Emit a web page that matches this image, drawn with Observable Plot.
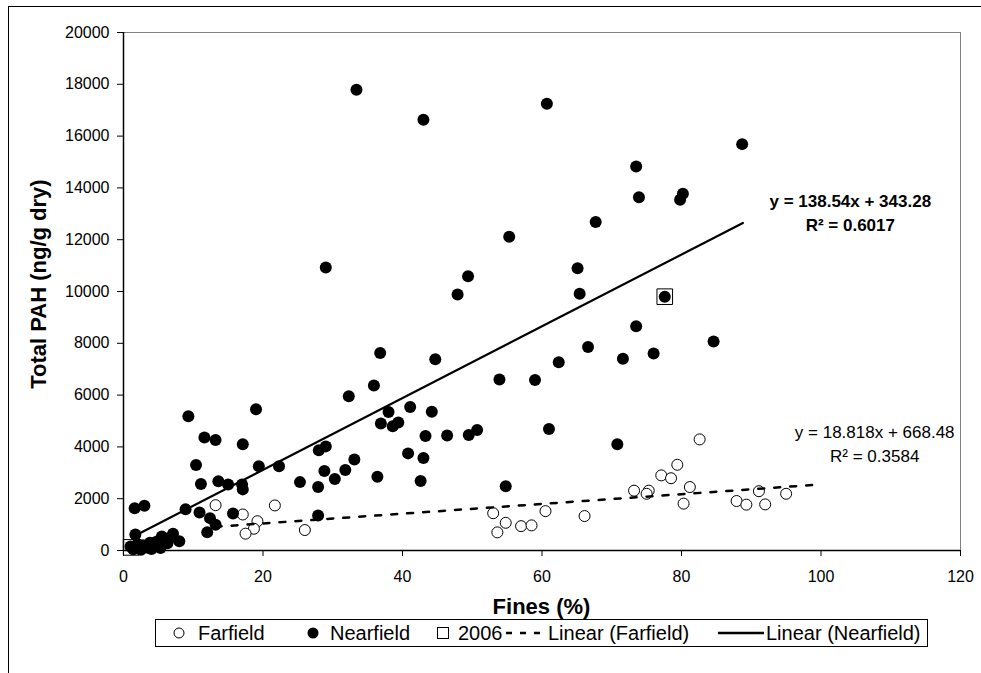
<!DOCTYPE html>
<html>
<head>
<meta charset="utf-8">
<script src="https://cdn.jsdelivr.net/npm/d3@7"></script>
<script src="https://cdn.jsdelivr.net/npm/@observablehq/plot@0.6"></script>
<style>
  html, body { margin: 0; padding: 0; background: #fff; }
  body { width: 981px; height: 673px; position: relative; overflow: hidden; font-family: "Liberation Sans", Arial, sans-serif; }
  #frame { position: absolute; left: 8px; top: 6px; right: -2px; bottom: -2px; border-top: 1px solid #000; border-left: 1px solid #000; pointer-events: none; }
  #chart { position: absolute; left: 0; top: 0; }
  .title { position: absolute; font-weight: bold; font-size: 22px; line-height: 22px; white-space: nowrap; text-align: center; color: #000; }
  #legend { position: absolute; left: 155px; top: 619px; width: 773px; height: 28px; box-sizing: border-box; border: 1px solid #000; background: #fff; font-size: 20px; color: #000; }
  .li { position: absolute; top: 0; height: 26px; line-height: 26px; white-space: nowrap; }
</style>
</head>
<body>
<div id="chart"></div>
<div id="frame"></div>
<div class="title" id="xtitle" style="left:391.5px; top:596px; width:300px;">Fines (%)</div>
<div class="title" id="ytitle" style="left:-111px; top:273px; width:300px; transform: rotate(-90deg); transform-origin: 150px 11px;">Total PAH (ng/g dry)</div>
<div id="legend"></div>
<script>
// ---- Data ----
const nearX = [33.4, 43.0, 60.7, 88.7, 73.5, 73.9, 80.2, 79.8, 67.7, 55.3, 65.1, 65.4, 77.6, 29.0, 49.4, 47.9,
  73.5, 66.6, 84.6, 76.0, 71.6, 62.4, 53.9, 59.0, 61.0, 70.8, 54.8,
  9.3, 19.0, 36.8, 44.7, 35.9, 32.3, 41.1, 38.0, 44.2, 36.9, 38.6, 39.4, 43.3, 46.4, 49.5, 50.7,
  40.8, 43.0, 42.6, 28.0, 29.0, 33.1, 31.8, 28.8, 30.3, 25.3, 27.9, 36.4, 27.9, 22.3, 19.4,
  17.1, 11.6, 13.2, 10.4, 11.1, 13.6, 15.0, 17.0, 17.1, 8.9, 10.9, 15.7, 12.4, 13.2, 12.0,
  1.6, 3.0, 1.7, 7.1, 8.0, 5.5,
  1.0, 1.4, 2.0, 2.3, 2.8, 3.3, 3.8, 4.3, 4.8, 5.3, 5.8, 6.3, 6.8, 2.5, 4.0];
const nearY = [17790, 16630, 17250, 15690, 14830, 13640, 13770, 13540, 12680, 12110, 10900, 9910, 9800, 10930, 10590, 9880,
  8660, 7860, 8070, 7610, 7400, 7270, 6600, 6580, 4690, 4100, 2480,
  5180, 5450, 7630, 7380, 6370, 5960, 5540, 5350, 5360, 4900, 4800, 4940, 4420, 4440, 4460, 4650,
  3750, 3570, 2680, 3870, 4020, 3510, 3110, 3070, 2760, 2640, 2450, 2850, 1350, 3250, 3250,
  4100, 4360, 4270, 3300, 2570, 2670, 2550, 2550, 2360, 1590, 1470, 1430, 1250, 990, 700,
  1630, 1730, 620, 650, 360, 540,
  150, 50, 250, 80, 200, 120, 300, 180, 350, 100, 420, 280, 500, 30, 60];

const farX = [13.2, 17.1, 21.7, 19.2, 18.7, 17.5, 26.0, 53.0, 53.6, 54.8, 57.0, 58.5, 60.5, 66.1,
  82.6, 79.4, 77.1, 78.5, 81.2, 73.2, 75.3, 75.0, 91.1, 95.0, 80.3, 87.9, 89.3, 92.0];
const farY = [1750, 1390, 1740, 1130, 840, 650, 790, 1440, 700, 1070, 940, 970, 1520, 1330,
  4290, 3310, 2900, 2790, 2450, 2310, 2310, 2190, 2290, 2190, 1810, 1910, 1770, 1780];

const y2006X = [77.6, 1.1];
const y2006Y = [9800, 120];

// Linear trendlines (Excel fits shown on the chart)
const nearFit = {slope: 138.54, intercept: 343.28};
const farFit = {slope: 18.818, intercept: 668.48};
const nearTrendX = [1.5, 88.8];
const farTrendX = [13.2, 99.6];

const nearLabel = ["y = 138.54x + 343.28", "R² = 0.6017"];
const nearLabelX = 104.2, nearLabelY = [13470, 12530];
const farLabel = ["y = 18.818x + 668.48", "R² = 0.3584"];
const farLabelX = 107.7, farLabelY = [4540, 3610];

const xTicks = [0, 20, 40, 60, 80, 100, 120];
const yTicks = [0, 2000, 4000, 6000, 8000, 10000, 12000, 14000, 16000, 18000, 20000];

const legendLabels = ["Farfield", "Nearfield", "2006", "Linear (Farfield)", "Linear (Nearfield)"];

// ---- Build tables ----
const near = nearX.map((x, i) => ({x, y: nearY[i]}));
const far = farX.map((x, i) => ({x, y: farY[i]}));
const sq = y2006X.map((x, i) => ({x, y: y2006Y[i]}));
const nearLine = nearTrendX.map(x => ({x, y: nearFit.slope * x + nearFit.intercept}));
const farLine = farTrendX.map(x => ({x, y: farFit.slope * x + farFit.intercept}));
const nearLab = nearLabel.map((t, i) => ({t, x: nearLabelX, y: nearLabelY[i]}));
const farLab = farLabel.map((t, i) => ({t, x: farLabelX, y: farLabelY[i]}));

const plot = Plot.plot({
  width: 981,
  height: 610,
  marginLeft: 123,
  marginRight: 21,
  marginTop: 32,
  marginBottom: 60,
  style: {fontFamily: "'Liberation Sans', Arial, sans-serif", fontSize: "16px", color: "#000", background: "transparent", overflow: "visible"},
  x: {domain: [0, 120]},
  y: {domain: [0, 20000]},
  marks: [
    Plot.ruleY([20000], {stroke: "#808080", strokeWidth: 1}),
    Plot.ruleX([120], {stroke: "#808080", strokeWidth: 1}),
    Plot.axisX({ticks: xTicks, tickSize: 6, tickPadding: 14, label: null, fontSize: 16, stroke: "#000"}),
    Plot.axisY({ticks: yTicks, tickSize: 6, tickPadding: 8, label: null, fontSize: 16, tickFormat: d3.format("d"), stroke: "#000"}),
    Plot.ruleX([0], {stroke: "#000", strokeWidth: 1.5}),
    Plot.ruleY([0], {stroke: "#000", strokeWidth: 1.5}),
    Plot.dot(far, {x: "x", y: "y", r: 5.5, fill: "#fff", stroke: "#000", strokeWidth: 1}),
    Plot.dot(near, {x: "x", y: "y", r: 6, fill: "#000", stroke: "none"}),
    Plot.dot(sq, {x: "x", y: "y", symbol: "square", r: 8.8, fill: "none", stroke: "#000", strokeWidth: 1}),
    Plot.line(farLine, {x: "x", y: "y", stroke: "#000", strokeWidth: 2.5, strokeDasharray: "6,10"}),
    Plot.line(nearLine, {x: "x", y: "y", stroke: "#000", strokeWidth: 2.2}),
    Plot.text(nearLab, {x: "x", y: "y", text: "t", fontSize: 17, fontWeight: "bold", fill: "#000", textAnchor: "middle"}),
    Plot.text(farLab, {x: "x", y: "y", text: "t", fontSize: 17, fill: "#000", textAnchor: "middle"})
  ]
});
document.getElementById("chart").appendChild(plot);

// ---- Legend ----
const legendKinds = ["open", "filled", "square", "dash", "solid"];
const legendSymX = [16, 150, 280, 349, 562];
const legendTextX = [42, 174, 302, 392, 610];
const leg = document.getElementById("legend");
legendKinds.forEach((kind, i) => {
  const s = document.createElementNS("http://www.w3.org/2000/svg", "svg");
  let w = 14, inner = "";
  if (kind === "open") inner = '<circle cx="7" cy="13" r="5" fill="#fff" stroke="#000" stroke-width="1"/>';
  if (kind === "filled") inner = '<circle cx="7" cy="13" r="5.5" fill="#000"/>';
  if (kind === "square") inner = '<rect x="1.5" y="7.5" width="11" height="11" fill="none" stroke="#000" stroke-width="1"/>';
  if (kind === "dash") { w = 40; inner = '<line x1="1" y1="13" x2="40" y2="13" stroke="#000" stroke-width="2.5" stroke-dasharray="6,8"/>'; }
  if (kind === "solid") { w = 46; inner = '<line x1="0" y1="13" x2="46" y2="13" stroke="#000" stroke-width="2.5"/>'; }
  s.setAttribute("width", w); s.setAttribute("height", 26);
  s.style.position = "absolute"; s.style.left = legendSymX[i] + "px"; s.style.top = "0px";
  s.innerHTML = inner;
  leg.appendChild(s);
  const t = document.createElement("div");
  t.className = "li"; t.style.left = legendTextX[i] + "px"; t.textContent = legendLabels[i];
  leg.appendChild(t);
});
</script>
</body>
</html>
